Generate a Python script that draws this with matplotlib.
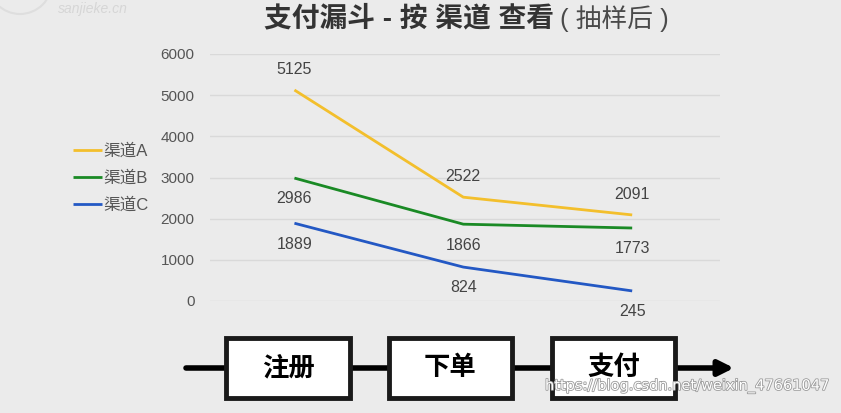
import matplotlib.pyplot as plt
import matplotlib.patheffects as pe
from matplotlib.patches import Rectangle, Circle

plt.rcParams['font.family'] = ['Liberation Sans', 'Noto Sans CJK SC', 'DejaVu Sans']

# data
stages = ['注册', '下单', '支付']
channels = ['渠道A', '渠道B', '渠道C']
channel_a = [5125, 2522, 2091]
channel_b = [2986, 1866, 1773]
channel_c = [1889, 824, 245]
series = [channel_a, channel_b, channel_c]
colors = ['#f3bf2c', '#1a8a25', '#2358c4']
label_side = [1, -1, -1]   # 1 = label above the point, -1 = below
yticks = [0, 1000, 2000, 3000, 4000, 5000, 6000]

bg = '#ebebeb'
W, H = 841, 413
fig = plt.figure(figsize=(W / 100, H / 100), dpi=100, facecolor=bg)

# main line chart
ax = fig.add_axes([210 / W, 1 - 301 / H, 510 / W, 247 / H])
ax.set_facecolor(bg)
xs = list(range(len(stages)))
for name, vals, c, side in zip(channels, series, colors, label_side):
    ax.plot(xs, vals, color=c, lw=2.0, label=name, solid_capstyle='butt')
    for x, v in zip(xs, vals):
        ax.annotate(f'{v}', (x, v), xytext=(0, 15 * side), textcoords='offset points',
                    ha='center', va='center', fontsize=11.5, color='#444444')

ax.set_xlim(-0.5, 2.52)
ax.set_ylim(0, 6000)
ax.set_yticks(yticks)
ax.set_xticks([])
ax.grid(axis='y', color='#d9d9d9', lw=1)
ax.set_axisbelow(True)
for s in ax.spines.values():
    s.set_visible(False)
ax.tick_params(axis='y', length=0, pad=11, labelsize=11, labelcolor='#555555')

leg = fig.legend(loc='upper left', bbox_to_anchor=(58 / W, 1 - 128 / H), frameon=False,
                 handlelength=1.75, handletextpad=0.05, labelspacing=0.68,
                 prop={'size': 12})
for t in leg.get_texts():
    t.set_color('#555555')

# title (bold part + light part)
fig.text(554 / W, 1 - 19 / H, '支付漏斗 - 按 渠道 查看', ha='right', va='center',
         fontsize=20, fontweight='bold', color='#333333')
fig.text(560 / W, 1 - 19 / H, '( 抽样后 )', ha='left', va='center',
         fontsize=18.5, color='#4a4a4a')

# overlay in pixel coordinates for the flow diagram and watermarks
ov = fig.add_axes([0, 0, 1, 1], zorder=-1)
ov.set_xlim(0, W)
ov.set_ylim(H, 0)
ov.axis('off')
ov.patch.set_alpha(0)

flow_y = 368
ov.annotate('', xy=(734, flow_y), xytext=(186, flow_y),
            arrowprops=dict(arrowstyle='-|>,head_length=0.9,head_width=0.45',
                            color='black', lw=4, shrinkA=0, shrinkB=0))
box_edges = [(226, 350), (389, 512), (552, 675)]
for (x0, x1), name in zip(box_edges, stages):
    ov.add_patch(Rectangle((x0, 338), x1 - x0, 60, facecolor='white',
                           edgecolor='#1a1a1a', lw=3.5, zorder=3))
    ov.text((x0 + x1) / 2, flow_y, name, ha='center', va='center', fontsize=19,
            fontweight='bold', color='black', zorder=4)

# watermarks
ov.add_patch(Circle((20, -18), 32, facecolor='none', edgecolor='#dedede', lw=1.5))
ov.text(58, 9, 'sanjieke.cn', fontsize=10, style='italic', color='#d6d6d6',
        ha='left', va='center')
ov.text(831, 386, 'https://blog.csdn.net/weixin_47661047', fontsize=10.5, color='white',
        ha='right', va='center', zorder=5, family='Liberation Sans Narrow',
        path_effects=[pe.withStroke(linewidth=1.2, foreground='#9a9a9a')])

fig.savefig('out.png', dpi=100, facecolor=bg)
